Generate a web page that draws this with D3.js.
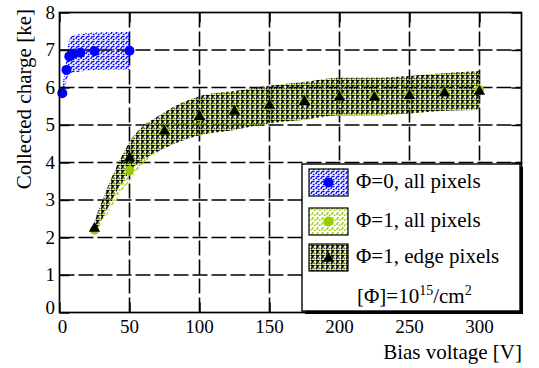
<!DOCTYPE html>
<html>
<head>
<meta charset="utf-8">
<script src="https://cdn.jsdelivr.net/npm/d3@7/dist/d3.min.js"></script>
<style>
  html, body { margin: 0; padding: 0; background: #fff; }
  svg { display: block; }
  text { font-family: "Liberation Serif", "DejaVu Serif", serif; fill: #000; }
</style>
</head>
<body>
<svg id="chart" width="539" height="368"></svg>
<script>
// Collected charge vs. bias voltage
const voltUnirr = [2, 5, 7, 10, 15, 25, 50];
const chargeUnirr = [5.85, 6.47, 6.83, 6.9, 6.93, 6.97, 6.98];
const errUnirr = [0.15, 0.3, 0.45, 0.5, 0.5, 0.5, 0.5];

const voltIrr = [25, 50, 75, 100, 125, 150, 175, 200, 225, 250, 275, 300];
const chargeAll = [2.2, 3.8, 4.85, 5.22, 5.38, 5.53, 5.63, 5.74, 5.76, 5.81, 5.88, 5.95];
const errAll = [0.15, 0.3, 0.45, 0.5, 0.5, 0.5, 0.5, 0.5, 0.5, 0.5, 0.5, 0.5];
const chargeEdge = [2.27, 4.14, 4.86, 5.25, 5.39, 5.55, 5.65, 5.76, 5.76, 5.81, 5.88, 5.92];
const errEdge = [0.18, 0.4, 0.48, 0.52, 0.52, 0.5, 0.5, 0.5, 0.5, 0.5, 0.5, 0.52];

const xTicks = [0, 50, 100, 150, 200, 250, 300];
const yTicks = [0, 1, 2, 3, 4, 5, 6, 7, 8];
const legendLabels = ["Φ=0, all pixels", "Φ=1, all pixels", "Φ=1, edge pixels"];

const BLUE = "#0000ff", GREEN = "#99cc00", BLACK = "#000";

const svg = d3.select("#chart");
const x = d3.scaleLinear().domain([0, 330]).range([59.5, 521.5]);
const y = d3.scaleLinear().domain([0, 8]).range([312.5, 12.5]);
const [x0, x1] = x.range();
const [y0, y1] = y.range();

// Hatch patterns
const defs = svg.append("defs");
function hatch(id, color, d, w, sw, offset) {
  const p = defs.append("pattern").attr("id", id)
    .attr("patternUnits", "userSpaceOnUse").attr("width", w).attr("height", w)
    .attr("x", offset).attr("y", offset);
  p.append("path").attr("d", d).attr("stroke", color)
    .attr("stroke-width", sw).attr("fill", "none");
}
hatch("hBlue", BLUE, "M0.6,4.2 L2.6,0.8 M2.8,4.4 L4.6,4.4 M3.2,2 L4.4,0.8", 5, 1.3, 0);
hatch("hGreen", GREEN, "M0.5,3.8 L2.4,1.2 M2.8,4.2 L4.5,4.2", 5, 1.4, 1);
hatch("hBlack", BLACK, "M0.8,0.8 L3.4,0.8 L1,4 M3.6,3.2 L4.6,3.2", 5, 1.4, 0);

// Grid
const grid = svg.append("g").attr("stroke", "#000").attr("stroke-width", 1.6)
  .attr("stroke-dasharray", "15,4");
grid.selectAll("line.gx").data(xTicks.filter(t => t > 0)).join("line")
  .attr("x1", d => x(d)).attr("x2", d => x(d)).attr("y1", y0).attr("y2", y1);
grid.selectAll("line.gy").data(yTicks.filter(t => t > 0 && t < 8)).join("line")
  .attr("y1", d => y(d)).attr("y2", d => y(d)).attr("x1", x0).attr("x2", x1);

// Error bands
function band(vs, qs, es, fill) {
  const pts = vs.map((v, i) => ({ v, lo: qs[i] - es[i], hi: qs[i] + es[i] }));
  const area = d3.area().x(d => x(d.v)).y0(d => y(d.lo)).y1(d => y(d.hi))
    .curve(d3.curveMonotoneX);
  svg.append("path").datum(pts).attr("d", area).attr("fill", fill);
}
band(voltUnirr, chargeUnirr, errUnirr, "url(#hBlue)");
band(voltIrr, chargeAll, errAll, "url(#hGreen)");
band(voltIrr, chargeEdge, errEdge, "url(#hGreen)");
band(voltIrr, chargeEdge, errEdge, "url(#hBlack)");

// Markers
const tri = d3.symbol().type(d3.symbolTriangle).size(55);
svg.append("g").selectAll("circle").data(voltUnirr).join("circle")
  .attr("cx", d => x(d)).attr("cy", (d, i) => y(chargeUnirr[i])).attr("r", 5)
  .attr("fill", BLUE);
svg.append("g").selectAll("circle").data(voltIrr).join("circle")
  .attr("cx", d => x(d)).attr("cy", (d, i) => y(chargeAll[i])).attr("r", 4.5)
  .attr("fill", GREEN);
svg.append("g").selectAll("path").data(voltIrr).join("path")
  .attr("transform", (d, i) => `translate(${x(d)},${y(chargeEdge[i]) + 1})`)
  .attr("d", tri).attr("fill", BLACK);

// Axes with inward ticks
function tickAxis(axisFn, scale, major, minor, transform) {
  const g = svg.append("g").attr("transform", transform);
  g.call(axisFn(scale).tickValues(minor).tickSize(-5).tickFormat(""));
  g.call(axisFn(scale).tickValues(major).tickSize(-10).tickFormat(""));
  g.selectAll(".domain").remove();
  g.selectAll("line").attr("stroke", "#000").attr("stroke-width", 1.4);
}
const xMinor = d3.range(0, 331, 10);
const yMinor = d3.range(0, 8.01, 0.2).map(v => +v.toFixed(1));
tickAxis(d3.axisBottom, x, xTicks, xMinor, `translate(0,${y0})`);
tickAxis(d3.axisTop, x, xTicks, xMinor, `translate(0,${y1})`);
tickAxis(d3.axisLeft, y, yTicks, yMinor, `translate(${x0},0)`);
tickAxis(d3.axisRight, y, yTicks, yMinor, `translate(${x1},0)`);

svg.append("rect").attr("x", x0).attr("y", y1).attr("width", x1 - x0)
  .attr("height", y0 - y1).attr("fill", "none").attr("stroke", "#000")
  .attr("stroke-width", 1.7);

// Tick labels
svg.append("g").selectAll("text").data(xTicks).join("text")
  .attr("x", d => d === 0 ? x(d) + 3 : x(d)).attr("y", 333)
  .attr("text-anchor", "middle").attr("font-size", 19).text(d => d);
svg.append("g").selectAll("text").data(yTicks).join("text")
  .attr("x", 55).attr("y", d => d === 0 ? y(d) - 5 : y(d))
  .attr("dy", "0.34em").attr("text-anchor", "end").attr("font-size", 19)
  .text(d => d);

// Axis titles
svg.append("text").attr("x", 522).attr("y", 359).attr("text-anchor", "end")
  .attr("font-size", 21).text("Bias voltage [V]");
svg.append("text").attr("transform", "translate(31,9) rotate(-90)")
  .attr("text-anchor", "end").attr("font-size", 21).text("Collected charge [ke]");

// Legend
const lg = svg.append("g");
lg.append("rect").attr("x", 305).attr("y", 167).attr("width", 218).attr("height", 147)
  .attr("fill", "#000");
lg.append("rect").attr("x", 302).attr("y", 164).attr("width", 218).attr("height", 147)
  .attr("fill", "#fff").attr("stroke", "#000").attr("stroke-width", 1.4);

const entries = [
  { fills: ["url(#hBlue)"], marker: "circle", color: BLUE },
  { fills: ["url(#hGreen)"], marker: "circle", color: GREEN },
  { fills: ["url(#hGreen)", "url(#hBlack)"], marker: "triangle", color: BLACK }
];
const rowY = [169, 208, 244];
entries.forEach((e, i) => {
  const top = rowY[i];
  lg.append("rect").attr("x", 309).attr("y", top).attr("width", 39).attr("height", 27)
    .attr("fill", "#fff");
  e.fills.forEach(f => lg.append("rect").attr("x", 309).attr("y", top)
    .attr("width", 39).attr("height", 27).attr("fill", f));
  lg.append("rect").attr("x", 309).attr("y", top).attr("width", 39).attr("height", 27)
    .attr("fill", "none").attr("stroke", "#000").attr("stroke-width", 1.2);
  if (e.marker === "circle") {
    lg.append("circle").attr("cx", 328.5).attr("cy", top + 13.5).attr("r", 5)
      .attr("fill", e.color);
  } else {
    lg.append("path").attr("transform", `translate(328.5,${top + 14.5})`)
      .attr("d", tri).attr("fill", e.color);
  }
  lg.append("text").attr("x", 356).attr("y", top + 19).attr("font-size", 21)
    .text(legendLabels[i]);
});
const note = lg.append("text").attr("x", 357).attr("y", 303).attr("font-size", 21);
note.append("tspan").text("[Φ]=10");
note.append("tspan").attr("dy", -8).attr("font-size", 14).text("15");
note.append("tspan").attr("dy", 8).text("/cm");
note.append("tspan").attr("dy", -8).attr("font-size", 14).text("2");
</script>
</body>
</html>
